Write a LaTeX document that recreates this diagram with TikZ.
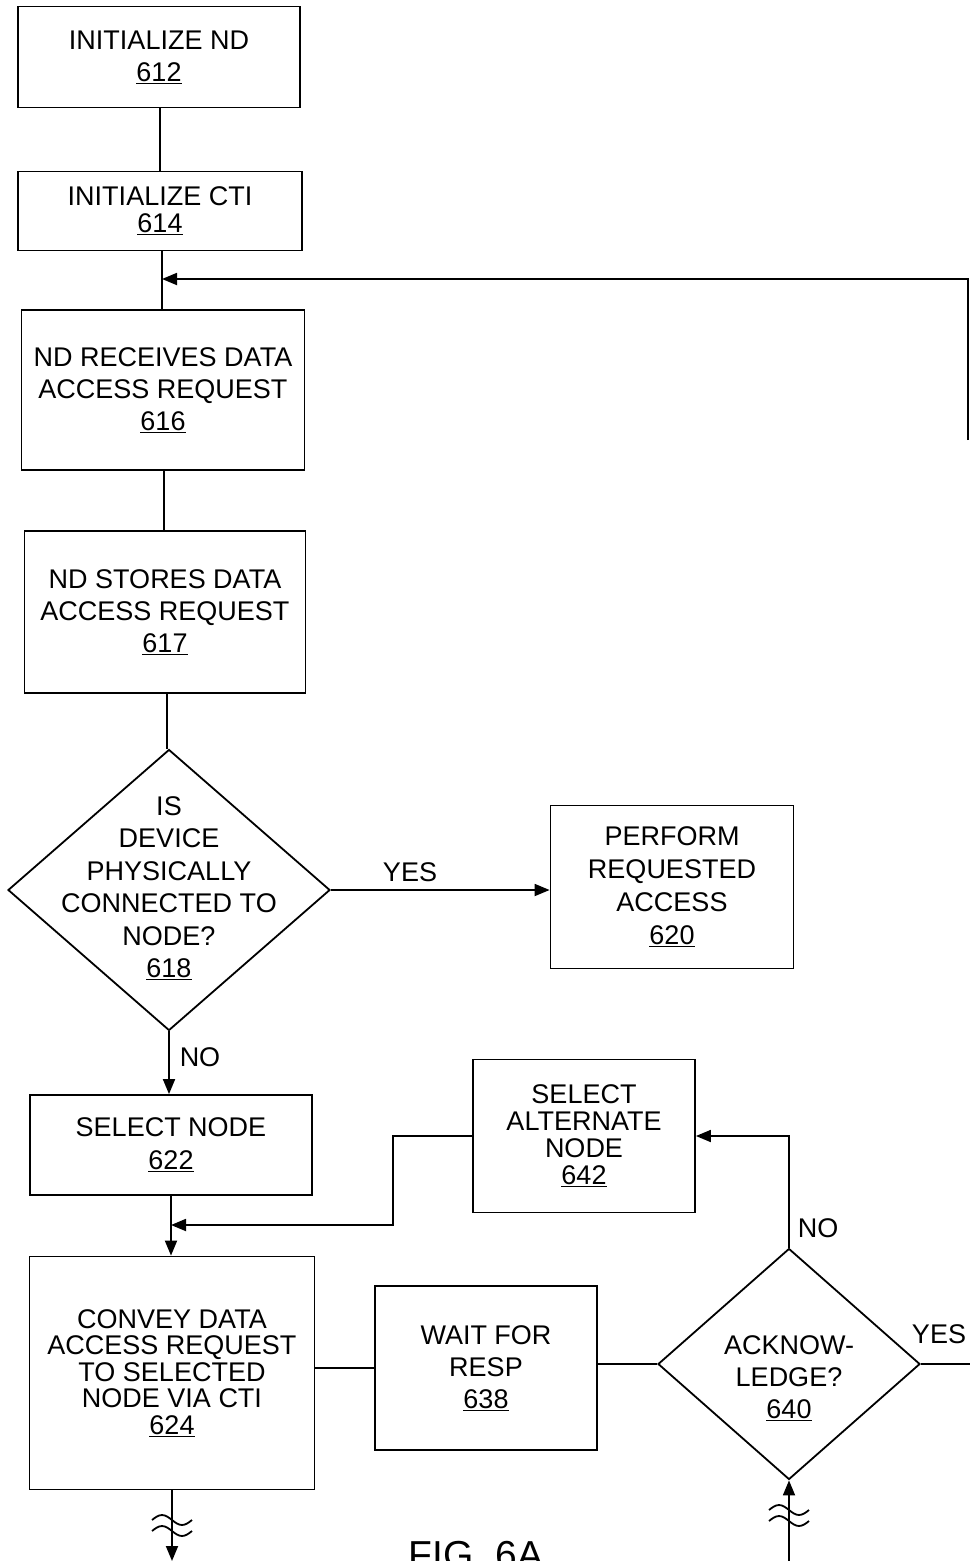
\documentclass[tikz,border=0pt]{standalone}
\usepackage{fontspec}
\setmainfont{Liberation Sans}
\usetikzlibrary{shapes.geometric,arrows.meta}
\begin{document}
\begin{tikzpicture}[x=1pt,y=-1pt,line width=1.8pt,>={Triangle[length=15pt,width=12pt]},
  every node/.style={font=\fontsize{27}{32}\selectfont},
  box/.style={draw,rectangle,align=center,inner sep=0pt},
  dia/.style={draw,diamond,inner sep=0pt},
  txt/.style={align=center,inner sep=0pt}]
\useasboundingbox (0,0) rectangle (970,1561);

\node [box,minimum width=282,minimum height=101] (n612) at (159,57) {INITIALIZE ND\\\underline{612}};
\node [box,minimum width=284,minimum height=79,font=\fontsize{27}{27}\selectfont] (n614) at (160,211) {INITIALIZE CTI\\\underline{614}};
\node [box,minimum width=283,minimum height=160] (n616) at (163,390) {ND RECEIVES DATA\\ACCESS REQUEST\\\underline{616}};
\node [box,minimum width=281,minimum height=162] (n617) at (165,612) {ND STORES DATA\\ACCESS REQUEST\\\underline{617}};

\node [dia,minimum width=322,minimum height=281] (d618) at (169,890) {};
\node [txt,font=\fontsize{27}{32.5}\selectfont] (t618) at (169,888) {IS\\DEVICE\\PHYSICALLY\\CONNECTED TO\\NODE?\\\underline{618}};
\node [box,minimum width=243,minimum height=163,font=\fontsize{27}{33}\selectfont] (n620) at (672,887) {PERFORM\\REQUESTED\\ACCESS\\\underline{620}};

\node [box,minimum width=282,minimum height=100,font=\fontsize{27}{33}\selectfont] (n622) at (171,1145) {SELECT NODE\\\underline{622}};
\node [box,minimum width=222,minimum height=153,font=\fontsize{27}{27}\selectfont] (n642) at (584,1136) {SELECT\\ALTERNATE\\NODE\\\underline{642}};
\node [box,minimum width=285,minimum height=233,font=\fontsize{27}{26.5}\selectfont] (n624) at (172,1373) {CONVEY DATA\\ACCESS REQUEST\\TO SELECTED\\NODE VIA CTI\\\underline{624}};
\node [box,minimum width=222,minimum height=164] (n638) at (486,1368) {WAIT FOR\\RESP\\\underline{638}};
\node [dia,minimum width=262,minimum height=231] (d640) at (789,1364) {};
\node [txt] (t640) at (789,1378) {ACKNOW-\\LEDGE?\\\underline{640}};

\node (yes618) at (410,872) {YES};
\node (no618) at (200,1057) {NO};
\node (no640) at (818,1228) {NO};
\node (yes640) at (939,1334) {YES};
\node [font=\fontsize{39}{44}\selectfont,anchor=base] (fig) at (476,1568) {FIG. 6A};

\coordinate (r616) at (968,440);
\coordinate (k642) at (393,1225);
\coordinate (e640) at (970,1362);
\coordinate (b624) at (n624.south |- 0,1561);
\coordinate (b640) at (d640.south |- 0,1561);

\draw (n612.south -| 160,0) -- (160,0 |- n614.north);
\draw (n614.south -| 162,0) -- (162,0 |- n616.north);
\draw (n616.south -| 164,0) -- (164,0 |- n617.north);
\draw (n617.south -| 167,0) -- (167,0 |- d618.north);
\draw [->] (r616) |- (162,279);
\draw [->] (d618.east) -- (d618.east -| n620.west);
\draw [->] (d618.south) -- (d618.south |- n622.north);
\draw [->] (n622.south) -- (n622.south |- n624.north);
\draw [->] (n642.west) -| (k642) -- (k642 -| n622.south);
\draw (n638.west -| n624.east) -- (n638.west);
\draw (n638.east |- d640.west) -- (d640.west);
\draw [->] (d640.north) |- (n642.east);
\draw (d640.east) -- (d640.east -| e640);
\draw [->] (n624.south) -- (b624);
\draw [->] (b640) -- (d640.south);

\draw (152,1520) sin (162,1515) cos (172,1520) sin (182,1525) cos (192,1520);
\draw (152,1531) sin (162,1526) cos (172,1531) sin (182,1536) cos (192,1531);
\draw (769,1510) sin (779,1505) cos (789,1510) sin (799,1515) cos (809,1510);
\draw (769,1521) sin (779,1516) cos (789,1521) sin (799,1526) cos (809,1521);

\end{tikzpicture}
\end{document}
